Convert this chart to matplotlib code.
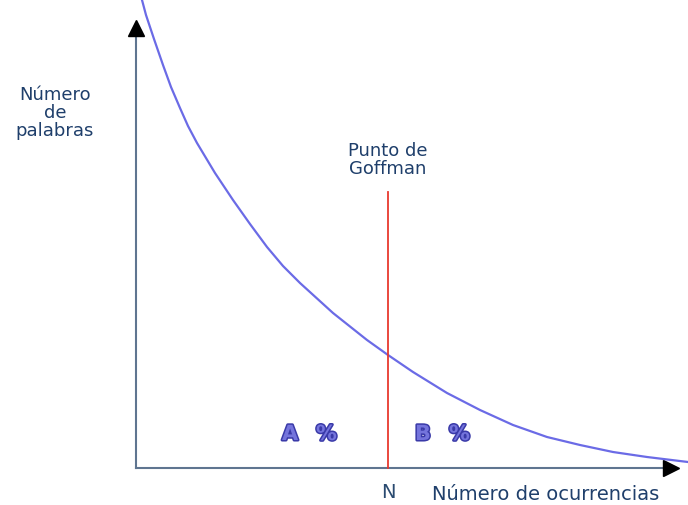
import matplotlib.pyplot as plt
import matplotlib.patheffects as pe

# curve (origin at the axes corner, units ~ pixels)
occurrences = [6, 10, 18, 27, 35, 44, 52, 61, 79, 97, 114, 131, 147, 164, 197, 231,
               252, 277, 311, 344, 377, 411, 444, 477, 511, 552]
words = [468, 453, 429, 403, 381, 360, 342, 325, 295, 268, 244, 221, 202, 185, 155, 128,
         113, 96, 75, 58, 43, 31, 23, 16, 11, 6]

goffman_x = 252
goffman_top = 276
x_axis_len = 542
y_axis_len = 448

text_color = '#1f3f6b'
axis_color = '#5f7590'

fig = plt.figure(figsize=(6.88, 5.05), dpi=100)
ax = fig.add_axes([0, 0, 1, 1])
ax.set_xlim(-136, 552)
ax.set_ylim(-37, 468)
ax.axis('off')

# axes with arrow heads
ax.plot([0, 0], [0, y_axis_len - 10], color=axis_color, lw=1.5)
ax.plot([0, x_axis_len - 8], [0, 0], color=axis_color, lw=1.5)
ax.plot(0, y_axis_len - 8, marker='^', color='black', markersize=12, clip_on=False)
ax.plot(x_axis_len - 7, 0, marker='>', color='black', markersize=12, clip_on=False)

# decaying curve and Goffman line
ax.plot(occurrences, words, color='#6b6be6', lw=1.6, solid_joinstyle='round')
ax.plot([goffman_x, goffman_x], [0, goffman_top], color='#e8392e', lw=1.3)

ax.text(-81, 355, 'Número\nde\npalabras', ha='center', va='center', fontsize=13,
        color=text_color, linespacing=1.0)
ax.text(goffman_x, 308, 'Punto de\nGoffman', ha='center', va='center', fontsize=13,
        color=text_color, linespacing=1.05)
ax.text(goffman_x, -25, 'N', ha='center', va='center', fontsize=14,
        color='#2a4a70')
ax.text(296, -26, 'Número de ocurrencias', ha='left', va='center', fontsize=14,
        color=text_color)

outline = [pe.withStroke(linewidth=2.2, foreground='#3a3aa8')]
for lab, xpos in [('A', 146), ('%', 180), ('B', 279), ('%', 313)]:
    ax.text(xpos, 34, lab, ha='left', va='center', fontsize=15, fontweight='bold',
            color='#7474dc', path_effects=outline)

fig.savefig('out.png', dpi=100)
